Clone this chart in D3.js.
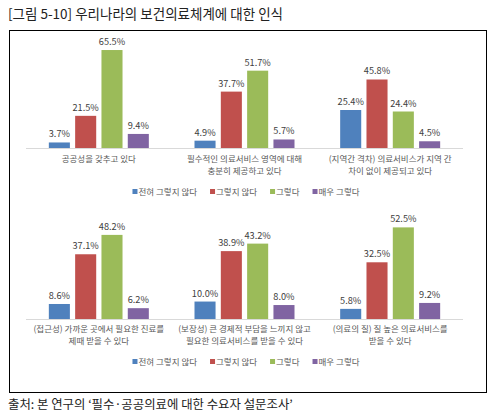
<!DOCTYPE html>
<html>
<head>
<meta charset="utf-8">
<script src="https://cdn.jsdelivr.net/npm/d3@7"></script>
<style>
  body { margin: 0; background: #fff; }
  text { font-family: "Noto Sans CJK KR", sans-serif; }
</style>
</head>
<body>
<svg width="497" height="415"></svg>
<script>
var series = ["전혀 그렇지 않다", "그렇지 않다", "그렇다", "매우 그렇다"];
var colors = ["#4f81bd", "#c0504d", "#9bbb59", "#8064a2"];

var topCats = [
  ["공공성을 갖추고 있다"],
  ["필수적인 의료서비스 영역에 대해", "충분히 제공하고 있다"],
  ["(지역간 격차) 의료서비스가 지역 간", "차이 없이 제공되고 있다"]
];
var topVals = [
  [3.7, 21.5, 65.5, 9.4],
  [4.9, 37.7, 51.7, 5.7],
  [25.4, 45.8, 24.4, 4.5]
];

var bottomCats = [
  ["(접근성) 가까운 곳에서 필요한 진료를", "제때 받을 수 있다"],
  ["(보장성) 큰 경제적 부담을 느끼지 않고", "필요한 의료서비스를 받을 수 있다"],
  ["(의료의 질) 질 높은 의료서비스를", "받을 수 있다"]
];
var bottomVals = [
  [8.6, 37.1, 48.2, 6.2],
  [10.0, 38.9, 43.2, 8.0],
  [5.8, 32.5, 52.5, 9.2]
];

var svg = d3.select("svg");

svg.append("text")
    .attr("x", 8)
    .attr("y", 19)
    .attr("font-size", 13.5)
    .attr("fill", "#222")
    .text("[그림 5-10] 우리나라의 보건의료체계에 대한 인식");

svg.append("rect")
    .attr("x", 9.5).attr("y", 30.5)
    .attr("width", 477).attr("height", 362)
    .attr("fill", "none")
    .attr("stroke", "#000")
    .attr("stroke-width", 1);

svg.append("text")
    .attr("x", 8)
    .attr("y", 409)
    .attr("font-size", 12.4)
    .attr("fill", "#222")
    .text("출처: 본 연구의 ‘필수·공공의료에 대한 수요자 설문조사’");

function panel(cats, vals, yMax, base, labelY, legendY) {
  var g = svg.append("g");

  var x0 = d3.scaleBand()
      .domain(d3.range(cats.length))
      .range([26, 463])
      .paddingInner(0.3135)
      .paddingOuter(0.3135 / 2);
  var x1 = d3.scaleBand()
      .domain(d3.range(series.length))
      .range([0, x0.bandwidth()])
      .paddingInner(0.2);
  var y = d3.scaleLinear()
      .domain([0, yMax])
      .range([base, base - 104.7]);

  var groups = g.selectAll("g.grp")
    .data(vals)
    .enter().append("g")
      .attr("class", "grp")
      .attr("transform", function(d, i) { return "translate(" + x0(i) + ",0)"; });

  groups.selectAll("rect")
    .data(function(d) { return d; })
    .enter().append("rect")
      .attr("x", function(d, j) { return x1(j); })
      .attr("y", function(d) { return y(d); })
      .attr("width", x1.bandwidth())
      .attr("height", function(d) { return y(0) - y(d); })
      .attr("fill", function(d, j) { return colors[j]; });

  groups.selectAll("text.val")
    .data(function(d) { return d; })
    .enter().append("text")
      .attr("class", "val")
      .attr("x", function(d, j) { return x1(j) + x1.bandwidth() / 2; })
      .attr("y", function(d) { return y(d) - 5; })
      .attr("text-anchor", "middle")
      .attr("font-size", 9.2)
      .attr("fill", "#404040")
      .text(function(d) { return d.toFixed(1) + "%"; });

  g.append("line")
      .attr("x1", 26).attr("x2", 463)
      .attr("y1", base + 0.5).attr("y2", base + 0.5)
      .attr("stroke", "#d9d9d9");

  var labels = g.selectAll("text.cat")
    .data(cats)
    .enter().append("text")
      .attr("class", "cat")
      .attr("text-anchor", "middle")
      .attr("font-size", 8.5)
      .attr("fill", "#595959")
      .attr("x", function(d, i) { return x0(i) + x0.bandwidth() / 2; })
      .attr("y", labelY);
  labels.selectAll("tspan")
    .data(function(d) { return d; })
    .enter().append("tspan")
      .attr("x", function() { return this.parentNode.getAttribute("x"); })
      .attr("dy", function(d, k) { return k ? 12 : 0; })
      .text(function(d) { return d; });

  // legend, centred
  var leg = g.append("g");
  var cx = 0;
  series.forEach(function(s, j) {
    leg.append("rect")
        .attr("x", cx).attr("y", legendY - 3)
        .attr("width", 5).attr("height", 5)
        .attr("fill", colors[j]);
    var t = leg.append("text")
        .attr("x", cx + 6)
        .attr("y", legendY + 3)
        .attr("font-size", 8.5)
        .attr("fill", "#595959")
        .text(s);
    cx += 6 + t.node().getComputedTextLength() + 13;
  });
  var w = cx - 13;
  leg.attr("transform", "translate(" + (246 - w / 2) + ",0)");
}

panel(topCats, topVals, 70, 148, 162, 192);
panel(bottomCats, bottomVals, 60, 319, 332, 362);
</script>
</body>
</html>
